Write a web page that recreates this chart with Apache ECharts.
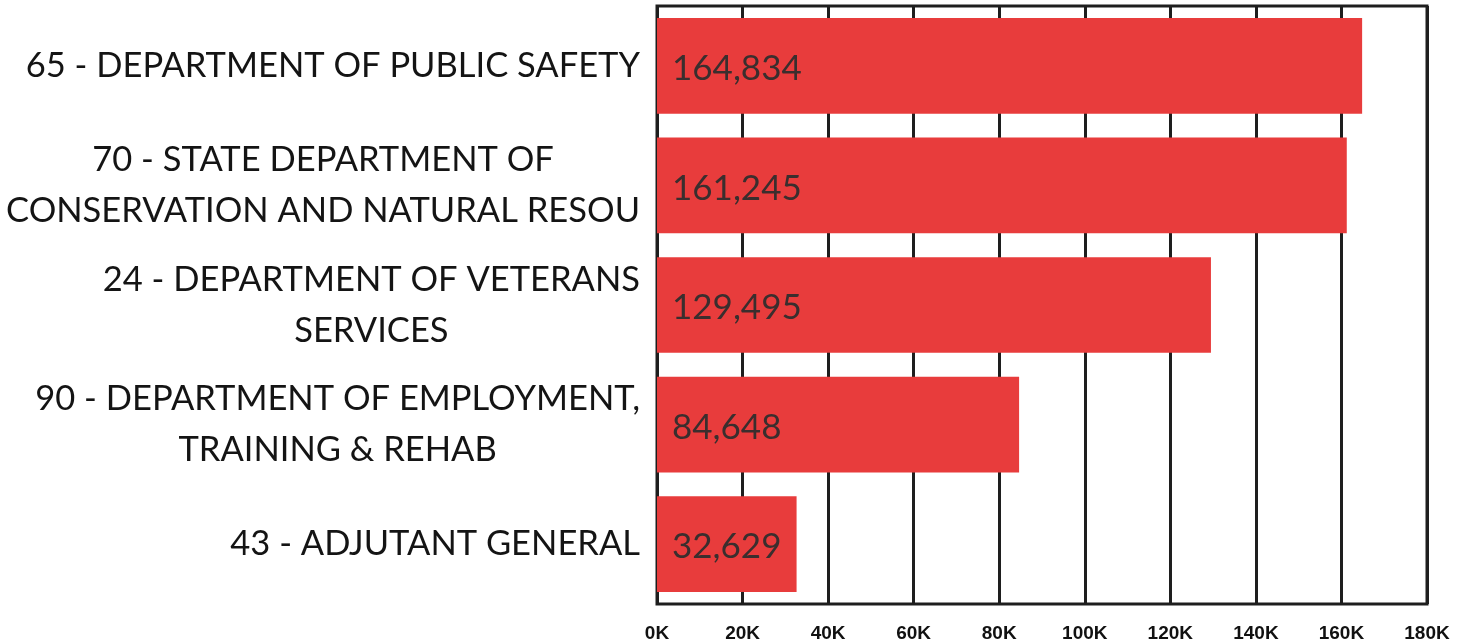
<!DOCTYPE html>
<html>
<head>
<meta charset="utf-8">
<script src="https://cdn.jsdelivr.net/npm/echarts@6/dist/echarts.min.js"></script>
<style>
  html, body { margin: 0; padding: 0; background: #fff; }
  #chart { width: 1469px; height: 643px; }
</style>
</head>
<body>
<div id="chart"></div>
<script>
const departments = [
  '65 - DEPARTMENT OF PUBLIC SAFETY',
  '70 - STATE DEPARTMENT OF\nCONSERVATION AND NATURAL RESOU',
  '24 - DEPARTMENT OF VETERANS\nSERVICES',
  '90 - DEPARTMENT OF EMPLOYMENT,\nTRAINING & REHAB',
  '43 - ADJUTANT GENERAL'
]
const amounts = [164834, 161245, 129495, 84648, 32629]

const chart = echarts.init(document.getElementById('chart'))

const option = {
  animation: false,
  grid: {
    left: 657,
    right: 42,
    top: 6,
    bottom: 39,
    show: true,
    borderColor: '#1e1e1e',
    borderWidth: 3,
    backgroundColor: 'transparent'
  },
  xAxis: {
    type: 'value',
    min: 0,
    max: 180000,
    interval: 20000,
    axisLine: { show: false },
    axisTick: { show: false },
    splitLine: { show: true, lineStyle: { color: '#1e1e1e', width: 3 } },
    axisLabel: {
      margin: 20,
      fontFamily: 'Liberation Sans',
      fontWeight: 'bold',
      fontSize: 19,
      color: '#111',
      formatter: v => (v / 1000) + 'K'
    }
  },
  yAxis: {
    type: 'category',
    inverse: true,
    data: departments,
    axisLine: { show: false },
    axisTick: { show: false },
    axisLabel: {
      margin: 17,
      align: 'right',
      // each line centred inside the right-aligned block
      formatter: v => v.split('\n').map(l => '{c|' + l + '}').join('\n'),
      rich: {
        c: {
          align: 'center',
          fontFamily: 'Lato',
          fontSize: 34.5,
          lineHeight: 51,
          color: '#141414'
        }
      }
    }
  },
  series: [
    {
      type: 'bar',
      data: amounts,
      barCategoryGap: '20%',
      itemStyle: { color: '#e83c3c' },
      label: {
        show: true,
        position: 'insideLeft',
        distance: 15,
        offset: [0, 3],
        fontFamily: 'Lato',
        fontSize: 35,
        color: '#3a2e2e',
        formatter: p => p.value.toLocaleString('en-US')
      }
    }
  ]
}

chart.setOption(option)
</script>
</body>
</html>
